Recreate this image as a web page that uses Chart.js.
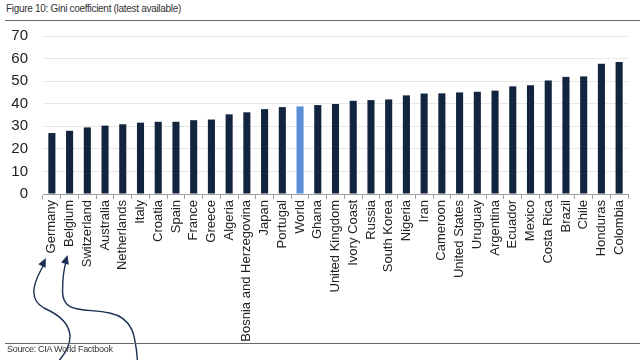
<!DOCTYPE html>
<html>
<head>
<meta charset="utf-8">
<script src="https://cdn.jsdelivr.net/npm/chart.js@4.4.1/dist/chart.umd.min.js"></script>
<style>
  html, body { margin: 0; padding: 0; background: #fff; }
  #wrap { position: relative; width: 640px; height: 360px; overflow: hidden; font-family: "Liberation Sans", Arial, sans-serif; }
  #giniChart { position: absolute; left: 0; top: 0; }
  .title { position: absolute; left: 6px; top: 3px; font-size: 10px; color: #333; letter-spacing: -0.3px; }
  .source { position: absolute; left: 7px; top: 344px; font-size: 9px; color: #333; letter-spacing: -0.3px; }
  .rule { position: absolute; left: 5px; right: 0; height: 1px; background: #666; }
</style>
</head>
<body>
<div id="wrap">
  <div class="title">Figure 10: Gini coefficient (latest available)</div>
  <div class="rule" style="top:20px"></div>
  <canvas id="giniChart" width="640" height="360"></canvas>
  <div class="rule" style="top:343px"></div>
  <div class="source">Source: CIA World Factbook</div>
</div>
<script>
const countries = [
  "Germany", "Belgium", "Switzerland", "Australia", "Netherlands", "Italy",
  "Croatia", "Spain", "France", "Greece", "Algeria", "Bosnia and Herzegovina",
  "Japan", "Portugal", "World", "Ghana", "United Kingdom", "Ivory Coast",
  "Russia", "South Korea", "Nigeria", "Iran", "Cameroon", "United States",
  "Uruguay", "Argentina", "Ecuador", "Mexico", "Costa Rica", "Brazil",
  "Chile", "Honduras", "Colombia"
];
const giniValues = [
  27.0, 28.0, 29.5, 30.3, 30.9, 31.6,
  32.0, 32.0, 32.7, 33.0, 35.3, 36.2,
  37.6, 38.5, 38.8, 39.4, 39.9, 41.3,
  41.6, 41.9, 43.7, 44.5, 44.6, 45.0,
  45.3, 45.8, 47.7, 48.2, 50.3, 51.9,
  52.1, 57.7, 58.5
];
const yTicks = [0, 10, 20, 30, 40, 50, 60, 70];
const highlight = "World";

const NAVY = "#13243f";
const LIGHT_BLUE = "#5b8fd5";

// hand-drawn style arrows pointing at the first two labels
const arrowPlugin = {
  id: "arrows",
  afterDraw(chart) {
    const ctx = chart.ctx;
    const x = chart.scales.x;
    const g = x.getPixelForValue(0);
    const b = x.getPixelForValue(1);
    ctx.save();
    ctx.strokeStyle = "#1c2f52";
    ctx.fillStyle = "#1c2f52";
    ctx.lineWidth = 1.4;

    ctx.beginPath();
    ctx.moveTo(g + 6, 362);
    ctx.bezierCurveTo(g + 24, 342, g + 24, 322, g - 8, 308);
    ctx.bezierCurveTo(g - 26, 298, g - 16, 278, g - 7, 263);
    ctx.stroke();
    head(ctx, g - 6, 258, 0.45);

    ctx.beginPath();
    ctx.moveTo(b + 68, 362);
    ctx.bezierCurveTo(b + 66, 336, b + 64, 318, b + 40, 313);
    ctx.bezierCurveTo(b + 14, 308, b - 8, 314, b - 7, 290);
    ctx.bezierCurveTo(b - 7, 276, b - 5, 266, b - 3, 260);
    ctx.stroke();
    head(ctx, b - 2, 255, 0.3);
    ctx.restore();
  }
};

function head(ctx, tx, ty, ang) {
  ctx.save();
  ctx.translate(tx, ty);
  ctx.rotate(ang);
  ctx.beginPath();
  ctx.moveTo(0, 0);
  ctx.lineTo(-4, 9);
  ctx.lineTo(4, 9);
  ctx.closePath();
  ctx.fill();
  ctx.restore();
}

Chart.defaults.font.family = '"Liberation Sans", Arial, sans-serif';

new Chart(document.getElementById("giniChart"), {
  type: "bar",
  data: {
    labels: countries,
    datasets: [{
      data: giniValues,
      backgroundColor: countries.map(c => c === highlight ? LIGHT_BLUE : NAVY),
      barPercentage: 0.4,
      categoryPercentage: 1.0
    }]
  },
  options: {
    responsive: false,
    animation: false,
    layout: { padding: { top: 36, right: 12, bottom: 0, left: 0 } },
    plugins: { legend: { display: false }, tooltip: { enabled: false } },
    scales: {
      x: {
        grid: { display: true, drawOnChartArea: false, color: "#a0a0a0", tickLength: 5, offset: true },
        border: { color: "#a0a0a0" },
        ticks: { autoSkip: false, minRotation: 90, maxRotation: 90, padding: 1, color: "#222", font: { size: 13 } },
        afterFit(scale) { scale.height = 166; }
      },
      y: {
        min: 0,
        max: 70,
        afterBuildTicks(scale) { scale.ticks = yTicks.map(v => ({ value: v })); },
        grid: { color: "#e8e8e8", tickLength: 0 },
        border: { display: false },
        ticks: { padding: 15, color: "#222", font: { size: 15 } },
        afterFit(scale) { scale.width = 43; }
      }
    }
  },
  plugins: [arrowPlugin]
});
</script>
</body>
</html>
